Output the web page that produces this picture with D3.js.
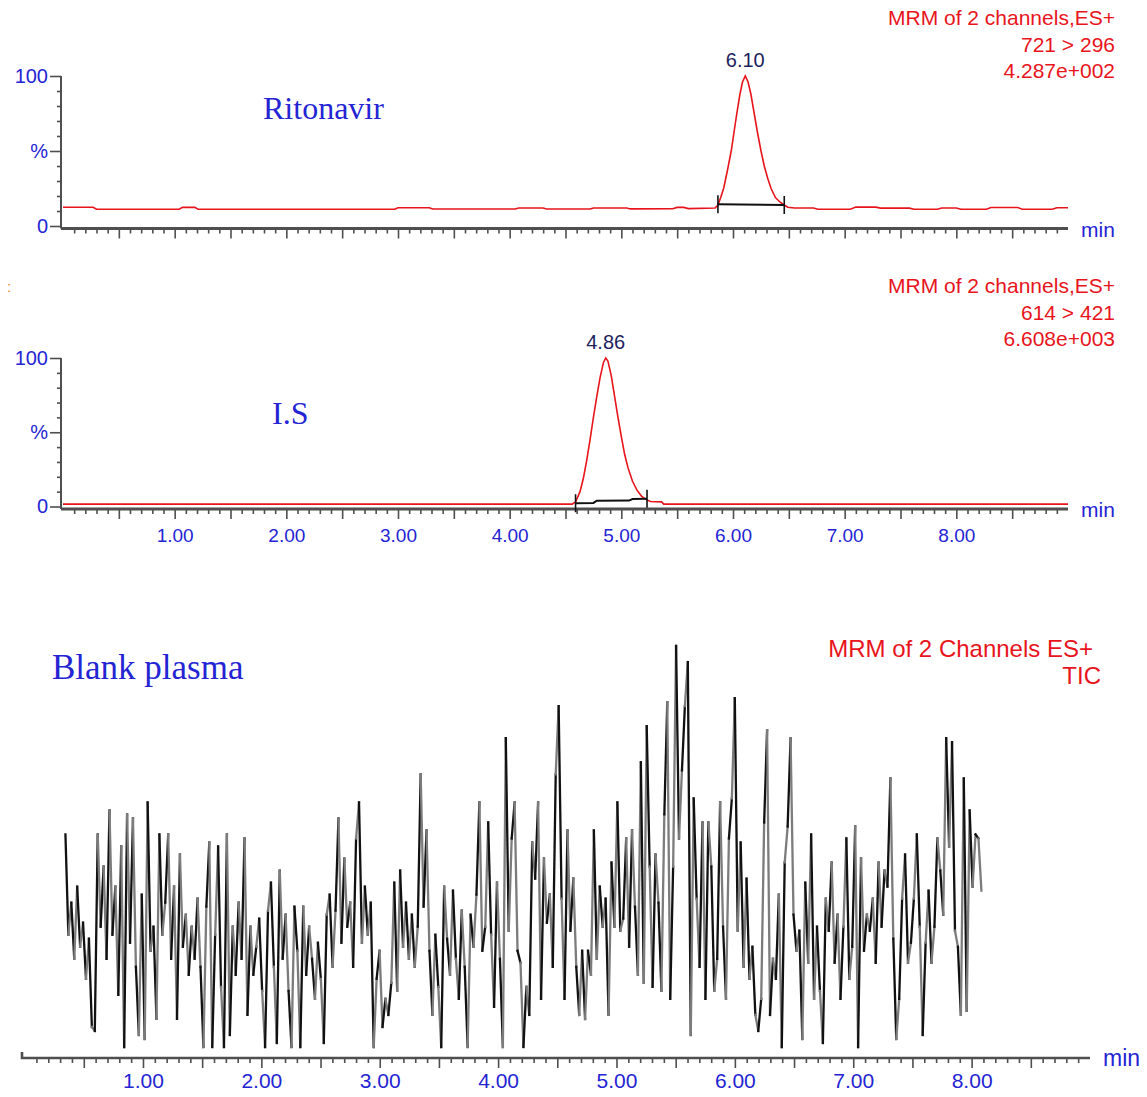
<!DOCTYPE html>
<html>
<head>
<meta charset="utf-8">
<script src="https://cdn.jsdelivr.net/npm/d3@7"></script>
<style>
  body { margin: 0; background: #fff; }
  svg { display: block; }
  .sans { font-family: 'Liberation Sans', Arial, sans-serif; }
  .serif { font-family: 'Liberation Serif', 'Times New Roman', serif; }
</style>
</head>
<body>
<script>
// chromatogram data, [minutes, % intensity]
const ritonavirTrace = [
  [0.00, 12.5], [0.27, 12.5], [0.30, 11.2], [1.04, 11.2], [1.07, 12.4], [1.18, 12.4],
  [1.21, 11.2], [2.97, 11.2], [3.00, 12.2], [3.28, 12.2], [3.31, 11.3], [4.05, 11.3],
  [4.08, 12.0], [4.30, 12.0], [4.33, 11.3], [4.72, 11.3], [4.75, 12.0], [5.05, 12.0],
  [5.08, 11.4], [5.46, 11.5], [5.50, 12.4], [5.56, 12.4], [5.60, 11.6], [5.84, 12.0],
  [5.865, 14], [5.89, 19], [5.916, 25], [5.95, 37], [5.984, 50], [6.01, 63], [6.034, 75],
  [6.06, 87], [6.085, 96], [6.11, 100], [6.135, 96], [6.16, 88], [6.19, 75], [6.22, 62],
  [6.251, 50], [6.28, 40], [6.31, 32], [6.341, 25], [6.38, 19], [6.42, 16], [6.459, 14],
  [6.49, 12.5], [6.55, 12.0], [6.72, 12.0], [6.76, 11.2], [7.05, 11.2], [7.10, 12.6],
  [7.28, 12.6], [7.32, 11.9], [7.58, 11.9], [7.62, 11.2], [7.83, 11.2], [7.87, 12.0],
  [8.00, 12.0], [8.04, 11.2], [8.27, 11.2], [8.31, 12.3], [8.55, 12.3], [8.59, 11.2],
  [8.86, 11.2], [8.90, 12.2], [9.00, 12.2]
];
const ritonavirBaseline = [[5.865, 14.5], [6.459, 14]];

const isTrace = [
  [0.00, 1.6], [4.56, 1.6], [4.59, 3], [4.63, 10], [4.66, 19], [4.69, 31], [4.72, 45],
  [4.75, 60], [4.78, 74], [4.81, 87], [4.84, 97], [4.86, 100], [4.88, 98], [4.91, 88],
  [4.94, 74], [4.97, 60], [5.00, 47], [5.03, 35], [5.06, 26], [5.10, 17], [5.14, 11],
  [5.18, 7], [5.22, 4.8], [5.26, 3.4], [5.36, 3.1], [5.38, 1.6], [9.00, 1.6]
];
const isBaseline = [[4.59, 2.2], [4.75, 2.4], [4.78, 3.9], [5.07, 4.0], [5.10, 5.0], [5.23, 5.2]];

// blank plasma TIC, one scan every blankStep minutes from blankStart
const blankStart = 0.345;
const blankStep = 0.0248;
const blankSignal = [
  53, 28, 36, 22, 40, 25, 31, 17, 27, 5,
  4, 53, 30, 45, 22, 59, 28, 40, 13, 50,
  0, 58, 26, 57, 20, 3, 38, 2, 61, 24,
  30, 7, 53, 28, 36, 53, 22, 40, 7, 48,
  25, 33, 18, 30, 22, 37, 20, 0, 35, 51,
  0, 28, 50, 15, 0, 53, 3, 30, 18, 36,
  22, 52, 8, 30, 18, 25, 32, 14, 0, 34,
  41, 20, 1, 44, 22, 33, 14, 0, 35, 24,
  0, 35, 18, 30, 22, 12, 26, 17, 1, 33,
  38, 20, 34, 57, 26, 47, 30, 36, 20, 52,
  61, 26, 40, 28, 36, 0, 17, 24, 5, 12,
  8, 16, 41, 14, 44, 25, 36, 22, 33, 20,
  30, 68, 35, 54, 24, 8, 28, 15, 0, 40,
  27, 18, 39, 22, 12, 34, 20, 0, 33, 25,
  38, 61, 24, 30, 56, 28, 10, 41, 22, 0,
  77, 29, 52, 61, 24, 21, 0, 15, 8, 51,
  42, 61, 12, 47, 31, 38, 20, 68, 85, 37,
  12, 54, 29, 42, 20, 8, 24, 7, 24, 18,
  54, 22, 40, 30, 37, 8, 46, 30, 61, 29,
  32, 52, 25, 54, 35, 18, 71, 16, 80, 45,
  15, 48, 36, 14, 58, 86, 12, 45, 100, 52,
  69, 85, 96, 3, 62, 37, 20, 56, 12, 56,
  45, 14, 22, 61, 30, 12, 52, 62, 87, 29,
  51, 20, 42, 17, 25, 8, 4, 12, 56, 79,
  8, 22, 17, 38, 0, 46, 55, 77, 33, 24,
  29, 2, 41, 21, 53, 12, 30, 14, 1, 37,
  29, 46, 21, 33, 12, 30, 52, 17, 25, 55,
  0, 47, 24, 33, 29, 37, 21, 46, 30, 44,
  40, 67, 27, 2, 12, 37, 48, 21, 26, 37,
  53, 30, 3, 26, 39, 21, 30, 52, 44, 33,
  77, 50, 76, 29, 25, 8, 67, 9, 59, 40,
  53, 52, 39
];

const labelMinutes = [1, 2, 3, 4, 5, 6, 7, 8];
const percentTicks = [0, 50, 100];
const percentLabels = ["0", "%", "100"];

const ritonavirInfo = ["MRM of 2 channels,ES+", "721 > 296", "4.287e+002"];
const isInfo = ["MRM of 2 channels,ES+", "614 > 421", "6.608e+003"];
const blankInfo = ["MRM of 2 Channels ES+", "TIC"];
const peakLabels = ["6.10", "4.86"];
const peakTimes = [6.11, 4.86];

const BLUE = "#2424d4";
const RED = "#e8141c";
const NAVY = "#1d1f5e";
const AXIS = "#4f4f4f";

const svg = d3.select("body").append("svg")
  .attr("width", 1147)
  .attr("height", 1097);

const text = (selection, str) => selection.append("text").text(str);

const halfTicks = d3.range(1, 18).map(i => i / 2);
const minorTicks = d3.range(1, 90).map(i => i / 10).filter(d => Math.round(d * 10) % 5 !== 0);

function timeAxis(x, y, labelled, fontSize) {
  const g = svg.append("g").attr("transform", `translate(0,${y})`).attr("color", AXIS);
  g.append("g")
    .call(d3.axisBottom(x).tickValues(minorTicks).tickSize(5).tickFormat(""))
    .call(a => a.select(".domain").remove());
  g.append("g")
    .call(d3.axisBottom(x).tickValues(halfTicks).tickSize(10).tickPadding(10)
      .tickFormat(d => labelled && labelMinutes.includes(d) ? d3.format(".2f")(d) : ""))
    .call(a => a.select(".domain").remove())
    .call(a => a.selectAll("text")
      .attr("class", "sans")
      .style("font-size", `${fontSize}px`)
      .attr("fill", BLUE));
  g.selectAll(".tick line").attr("stroke-width", 1.6);
  return g;
}

function percentAxis(y, x0) {
  const g = svg.append("g").attr("transform", `translate(${x0},0)`).attr("color", AXIS);
  g.append("g")
    .call(d3.axisLeft(y).tickValues(d3.range(10, 100, 10).filter(d => d !== 50)).tickSize(4).tickFormat(""))
    .call(a => a.select(".domain").remove());
  g.append("g")
    .call(d3.axisLeft(y).tickValues(percentTicks).tickSize(11).tickPadding(2)
      .tickFormat((d, i) => percentLabels[i]))
    .call(a => a.select(".domain").remove())
    .call(a => a.selectAll("text")
      .attr("class", "sans")
      .style("font-size", "20px")
      .attr("fill", BLUE));
  g.selectAll(".tick line").attr("stroke-width", 1.6);
  return g;
}

function infoBlock(lines, xRight, y0, step, size) {
  lines.forEach((str, i) => {
    text(svg, str)
      .attr("class", "sans")
      .attr("x", xRight)
      .attr("y", y0 + i * step)
      .attr("text-anchor", "end")
      .attr("fill", RED)
      .style("font-size", `${size}px`);
  });
}

function chromatogram({ trace, baseline, y, axisY, info, infoY, name, nameX, nameY, peak, labelled }) {
  percentAxis(y, 61);
  svg.append("line")
    .attr("x1", 61).attr("x2", 61)
    .attr("y1", y(100)).attr("y2", axisY)
    .attr("stroke", AXIS).attr("stroke-width", 2);
  timeAxis(xTime, axisY, labelled, 19);
  svg.append("line")
    .attr("x1", 61).attr("x2", xTime.range()[1])
    .attr("y1", axisY).attr("y2", axisY)
    .attr("stroke", AXIS).attr("stroke-width", 3);
  text(svg, "min")
    .attr("class", "sans")
    .attr("x", 1081).attr("y", axisY + 8)
    .attr("fill", BLUE)
    .style("font-size", "21px");

  const line = d3.line().x(d => xTime(d[0])).y(d => y(d[1]));
  svg.append("path")
    .attr("d", line(trace))
    .attr("fill", "none")
    .attr("stroke", RED)
    .attr("stroke-width", 1.6);

  svg.append("path")
    .attr("d", line(baseline))
    .attr("fill", "none")
    .attr("stroke", "#111")
    .attr("stroke-width", 2);
  [baseline[0], baseline[baseline.length - 1]].forEach(d => {
    svg.append("line")
      .attr("x1", xTime(d[0])).attr("x2", xTime(d[0]))
      .attr("y1", y(d[1]) - 9).attr("y2", y(d[1]) + 9)
      .attr("stroke", "#111").attr("stroke-width", 1.6);
  });

  text(svg, peakLabels[peak])
    .attr("class", "sans")
    .attr("x", xTime(peakTimes[peak]))
    .attr("y", y(100) - 9)
    .attr("text-anchor", "middle")
    .attr("fill", NAVY)
    .style("font-size", "20px");

  infoBlock(info, 1115, infoY, 26.5, 21);

  text(svg, name)
    .attr("class", "serif")
    .attr("x", nameX).attr("y", nameY)
    .attr("fill", BLUE)
    .style("font-size", "32px");
}

const xTime = d3.scaleLinear([0, 9], [63, 1068]);

chromatogram({
  trace: ritonavirTrace,
  baseline: ritonavirBaseline,
  y: d3.scaleLinear([0, 100], [226, 76]),
  axisY: 228.5,
  info: ritonavirInfo,
  infoY: 25,
  name: "Ritonavir",
  nameX: 263,
  nameY: 119,
  peak: 0,
  labelled: false
});

chromatogram({
  trace: isTrace,
  baseline: isBaseline,
  y: d3.scaleLinear([0, 100], [506.5, 358]),
  axisY: 509,
  info: isInfo,
  infoY: 293,
  name: "I.S",
  nameX: 272,
  nameY: 424,
  peak: 1,
  labelled: true
});

text(svg, ":")
  .attr("class", "sans")
  .attr("x", 7).attr("y", 292)
  .attr("fill", "#f08c1e")
  .style("font-size", "15px");

// blank plasma panel
const xBlank = d3.scaleLinear([0, 9], [24.6, 1090]);
const yBlank = d3.scaleLinear([0, 100], [1047, 646]);
const blankPoints = blankSignal.map((v, i) => [blankStart + i * blankStep, v]);

const blankAxisY = 1058;
timeAxis(xBlank, blankAxisY, true, 21)
  .selectAll("text").attr("y", 15);
svg.append("path")
  .attr("d", `M22,${blankAxisY - 6}V${blankAxisY}H${xBlank.range()[1]}`)
  .attr("fill", "none")
  .attr("stroke", AXIS)
  .attr("stroke-width", 2.6);
text(svg, "min")
  .attr("class", "sans")
  .attr("x", 1103).attr("y", blankAxisY + 8)
  .attr("fill", BLUE)
  .style("font-size", "23px");

svg.append("g")
  .selectAll("line")
  .data(d3.pairs(blankPoints))
  .join("line")
  .attr("x1", d => xBlank(d[0][0]))
  .attr("y1", d => yBlank(d[0][1]))
  .attr("x2", d => xBlank(d[1][0]))
  .attr("y2", d => yBlank(d[1][1]))
  .attr("stroke", (d, i) => (i % 2 ? "#7c7c7c" : "#111"))
  .attr("stroke-width", 2.3)
  .attr("stroke-linecap", "square");

text(svg, blankInfo[0])
  .attr("class", "sans")
  .attr("x", 1093).attr("y", 657)
  .attr("text-anchor", "end")
  .attr("fill", RED)
  .style("font-size", "24px");
text(svg, blankInfo[1])
  .attr("class", "sans")
  .attr("x", 1101).attr("y", 684)
  .attr("text-anchor", "end")
  .attr("fill", RED)
  .style("font-size", "24px");

text(svg, "Blank plasma")
  .attr("class", "serif")
  .attr("x", 52).attr("y", 679)
  .attr("fill", BLUE)
  .style("font-size", "35px");
</script>
</body>
</html>
